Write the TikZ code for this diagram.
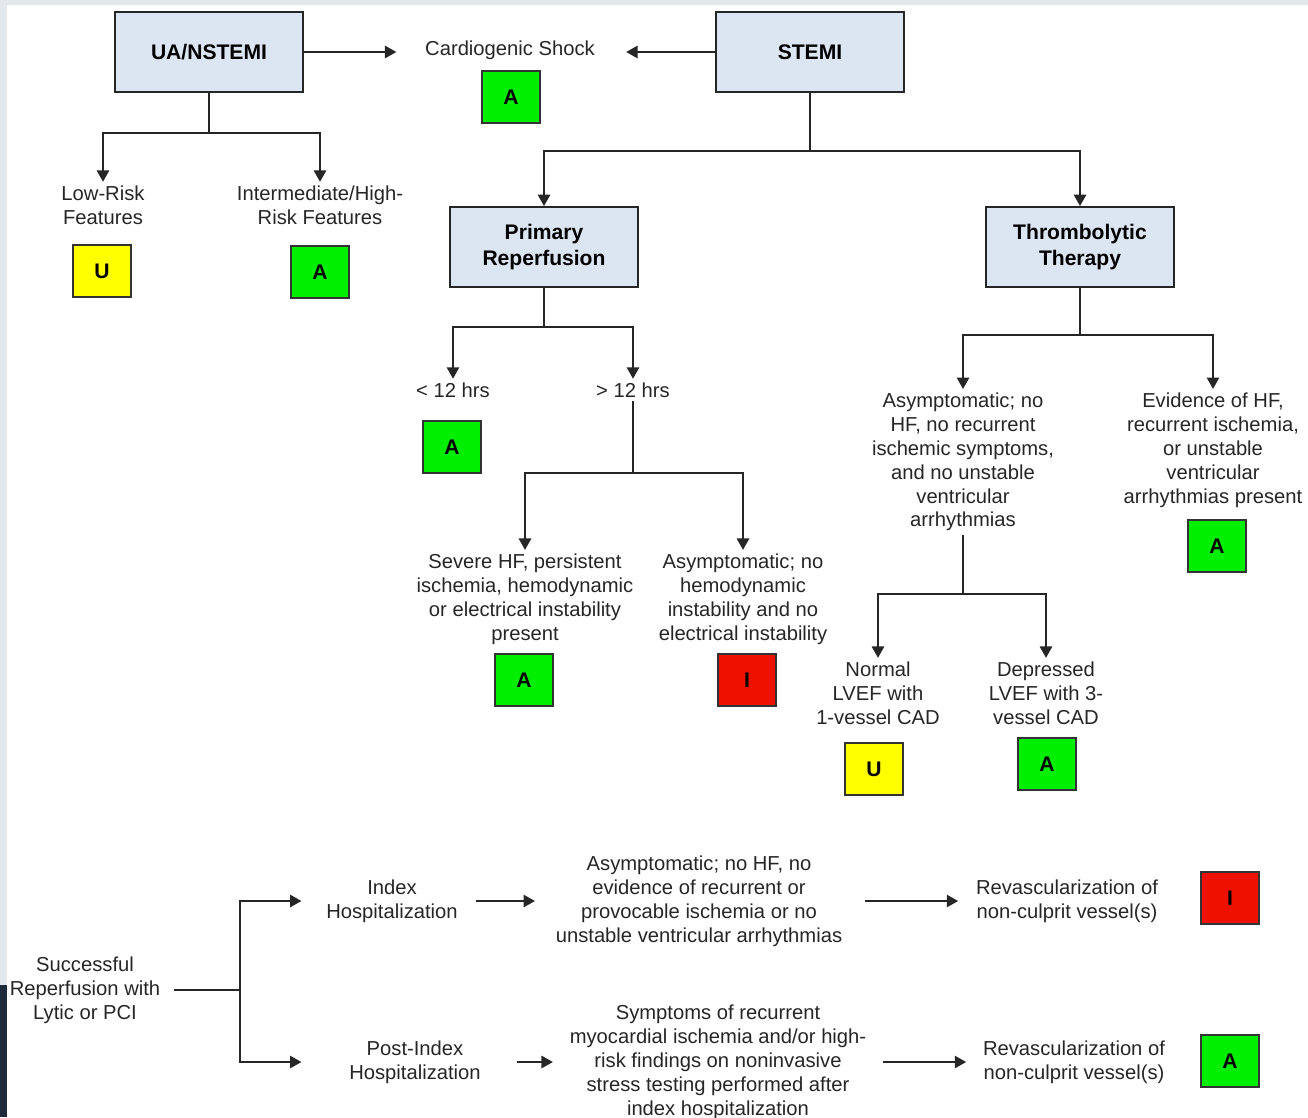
\documentclass[tikz,border=0pt]{standalone}
\usepackage{fontspec}
\setmainfont{Liberation Sans}
\usepackage{xcolor}
\usetikzlibrary{arrows.meta,positioning,calc}

\definecolor{boxblue}{HTML}{DCE6F2}
\definecolor{rateA}{HTML}{00EE00}
\definecolor{rateU}{HTML}{FFFF00}
\definecolor{rateI}{HTML}{EE1100}
\definecolor{edgegrey}{HTML}{E3E8EC}
\definecolor{edgedark}{HTML}{1E2A3C}

\begin{document}
\begin{tikzpicture}[
    x=0.02cm, y=-0.02cm,
    hdr/.style={rectangle, draw=black!85, fill=boxblue, line width=1.1pt, align=center, minimum height=1.6cm, minimum width=3.76cm, font=\fontsize{12}{15.3}\selectfont\bfseries},
    txt/.style={align=center, inner sep=2pt, text=black!85, font=\fontsize{11.5}{13.6}\selectfont},
    rate/.style={rectangle, draw=black!80, line width=1.1pt, minimum width=1.16cm, minimum height=1.04cm, font=\fontsize{12}{14}\selectfont\bfseries},
    rA/.style={rate, fill=rateA},
    rU/.style={rate, fill=rateU},
    rI/.style={rate, fill=rateI},
    ln/.style={line width=1.1pt, draw=black!85},
    arr/.style={-{Triangle[length=6.5pt,width=7pt]}, line width=1.1pt, draw=black!85}
]
    \useasboundingbox (0,0) rectangle (1308,1117);
    \fill[edgegrey] (0,0) rectangle (1308,1117);
    \fill[white] (7,5) rectangle (1308,1117);
    \fill[edgedark] (0,985) rectangle (7,1117);

    % top row
    \node [hdr] (ua) at (209,52) {UA/NSTEMI};
    \node [hdr] (stemi) at (810,52) {STEMI};
    \node [txt] (shock) at (510,50) {Cardiogenic Shock};
    \node [rA] (shockr) at (511,97) {A};

    \draw [arr, shorten >=0.5cm] (ua.east) -- (ua.east -| shock.west);
    \draw [arr, shorten >=0.55cm] (stemi.west) -- (stemi.west -| shock.east);

    % UA/NSTEMI branch
    \node [txt] (low) at (103,205) {Low-Risk\\Features};
    \node [txt] (high) at (320,205) {Intermediate/High-\\Risk Features};
    \node [rU] (lowr) at (102,271) {U};
    \node [rA] (highr) at (320,272) {A};

    \draw [ln] (ua.south) -- ++(0,40) coordinate (uaj);
    \draw [arr] (uaj) -| (low.north);
    \draw [arr] (uaj) -| (high.north);

    % STEMI branch
    \node [hdr] (prim) at (544,247) {Primary\\Reperfusion};
    \node [hdr] (thr) at (1080,247) {Thrombolytic\\Therapy};

    \draw [ln] (stemi.south) -- ++(0,58) coordinate (stj);
    \draw [arr] (stj) -| (prim.north);
    \draw [arr] (stj) -| (thr.north);

    % primary reperfusion
    \node [txt] (lt12) at (453,390) {< 12 hrs};
    \node [txt] (gt12) at (633,390) {> 12 hrs};
    \node [rA] (lt12r) at (452,447) {A};

    \draw [ln] (prim.south) -- ++(0,39) coordinate (prj);
    \draw [arr] (prj) -| (lt12.north);
    \draw [arr] (prj) -| (gt12.north);

    \node [txt] (sev) at (525,599) {Severe HF, persistent\\ischemia, hemodynamic\\or electrical instability\\present};
    \node [txt] (asy1) at (743,599) {Asymptomatic; no\\hemodynamic\\instability and no\\electrical instability};
    \node [rA] (sevr) at (524,680) {A};
    \node [rI] (asy1r) at (747,680) {I};

    \coordinate (gtj) at (633,473);
    \draw [ln] (gt12.south) -- (gtj);
    \draw [arr] (gtj) -| (sev.north);
    \draw [arr] (gtj) -| (asy1.north);

    % thrombolytic therapy
    \node [txt] (asy2) at (963,462) {Asymptomatic; no\\HF, no recurrent\\ischemic symptoms,\\and no unstable\\ventricular\\arrhythmias};
    \node [txt] (evid) at (1213,450) {Evidence of HF,\\recurrent ischemia,\\or unstable\\ventricular\\arrhythmias present};
    \node [rA] (evidr) at (1217,546) {A};

    \draw [ln] (thr.south) -- ++(0,47) coordinate (thj);
    \draw [arr] (thj) -| (asy2.north);
    \draw [arr] (thj) -| (evid.north);

    \node [txt] (norm) at (878,693) {Normal\\LVEF with\\1-vessel CAD};
    \node [txt] (depr) at (1046,693) {Depressed\\LVEF with 3-\\vessel CAD};
    \node [rU] (normr) at (874,769) {U};
    \node [rA] (deprr) at (1047,764) {A};

    \coordinate (asj) at (963,594);
    \draw [ln] (asy2.south) -- (asj);
    \draw [arr] (asj) -| (norm.north);
    \draw [arr] (asj) -| (depr.north);

    % successful reperfusion
    \node [txt] (succ) at (85,990) {Successful\\Reperfusion with\\Lytic or PCI};
    \node [txt] (idx) at (392,901) {Index\\Hospitalization};
    \node [txt] (post) at (415,1062) {Post-Index\\Hospitalization};
    \node [txt] (asyb) at (699,901) {Asymptomatic; no HF, no\\evidence of recurrent or\\provocable ischemia or no\\unstable ventricular arrhythmias};
    \node [txt] (symp) at (718,1062) {Symptoms of recurrent\\myocardial ischemia and/or high-\\risk findings on noninvasive\\stress testing performed after\\index hospitalization};
    \node [txt] (rev1) at (1067,901) {Revascularization of\\non-culprit vessel(s)};
    \node [txt] (rev2) at (1074,1062) {Revascularization of\\non-culprit vessel(s)};
    \node [rI] (rev1r) at (1230,898) {I};
    \node [rA] (rev2r) at (1230,1061) {A};

    \coordinate (bj) at (240,990);
    \draw [ln, shorten <=0.2cm] (succ.east) -- (bj);
    \draw [arr, shorten >=0.42cm] (bj) |- (idx.west);
    \draw [arr, shorten >=0.88cm] (bj) |- (post.west);

    \draw [arr, shorten <=0.28cm, shorten >=0.34cm] (idx.east) -- (idx.east -| asyb.west);
    \draw [arr, shorten <=0.38cm, shorten >=0.28cm] (asyb.east |- rev1.west) -- (rev1.west);
    \draw [arr, shorten <=0.64cm, shorten >=0.26cm] (post.east) -- (post.east -| symp.west);
    \draw [arr, shorten <=0.26cm, shorten >=0.26cm] (symp.east |- rev2.west) -- (rev2.west);
\end{tikzpicture}
\end{document}
